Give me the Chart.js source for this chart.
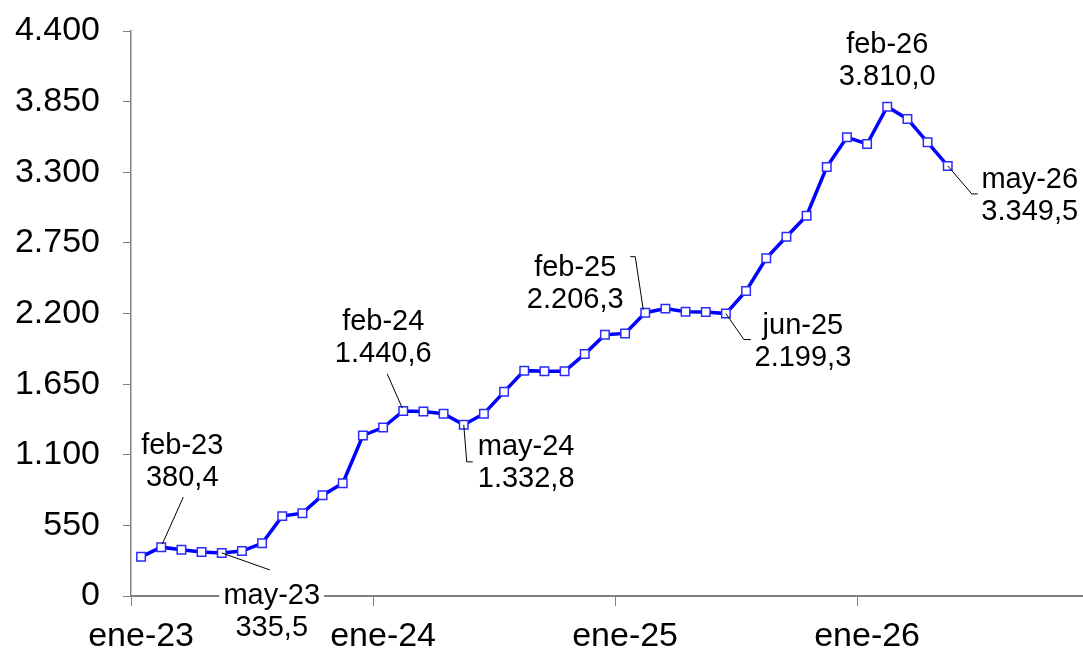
<!DOCTYPE html>
<html>
<head>
<meta charset="utf-8">
<script src="https://cdn.jsdelivr.net/npm/chart.js@4.4.0/dist/chart.umd.min.js"></script>
<style>
  html, body { margin: 0; padding: 0; background: #fff; overflow: hidden; }
  #wrap { width: 1083px; height: 653px; overflow: hidden; }
</style>
</head>
<body>
<div id="wrap"><canvas id="chart" width="1099" height="653"></canvas></div>
<script>
// months on the axis (data stops at may-26)
const months = [
  'ene-23','feb-23','mar-23','abr-23','may-23','jun-23','jul-23','ago-23','sep-23','oct-23','nov-23','dic-23',
  'ene-24','feb-24','mar-24','abr-24','may-24','jun-24','jul-24','ago-24','sep-24','oct-24','nov-24','dic-24',
  'ene-25','feb-25','mar-25','abr-25','may-25','jun-25','jul-25','ago-25','sep-25','oct-25','nov-25','dic-25',
  'ene-26','feb-26','mar-26','abr-26','may-26','jun-26','jul-26','ago-26','sep-26','oct-26','nov-26','dic-26'
];
const values = [
  305, 380.4, 360, 342, 335.5, 350, 410, 622, 645, 785, 878, 1250,
  1312, 1440.6, 1436, 1420, 1332.8, 1420, 1590, 1755, 1750, 1750, 1884, 2034,
  2045, 2206.3, 2238, 2214, 2212, 2199.3, 2375, 2630, 2798, 2962, 3341, 3572,
  3520, 3810.0, 3715, 3533, 3349.5
];
const yMin = 0, yMax = 4400, yStep = 550;
const highlighted = ['feb-23', 'may-23', 'feb-24', 'may-24', 'feb-25', 'jun-25', 'feb-26', 'may-26'];

// label placement relative to the point (px)
const callouts = {
  'feb-23': { dx: 21, dy: -101, align: 'center', path: [[22, -50], [1, -3]] },
  'may-23': { dx: 50, dy: 43, align: 'center', path: [[0, 0], [48, 17]], bg: true },
  'feb-24': { dx: -20, dy: -89, align: 'center', path: [[-16, -37], [-1, -3]] },
  'may-24': { dx: 14, dy: 22, align: 'left', path: [[0, 0], [3, 37], [9, 37]] },
  'feb-25': { dx: -70, dy: -45, align: 'center', path: [[-15, -56], [-10, -56], [-2, -3]] },
  'jun-25': { dx: 77, dy: 12, align: 'center', path: [[0, 0], [18, 26], [25, 26]] },
  'feb-26': { dx: 0, dy: -62, align: 'center', path: [] },
  'may-26': { dx: 82, dy: 14, align: 'center', path: [[0, 0], [24, 28], [30, 28]] }
};

function fmt(v, dec) {
  const parts = v.toFixed(dec).split('.');
  const whole = parts[0].replace(/\B(?=(\d{3})+(?!\d))/g, '.');
  return dec ? whole + ',' + parts[1] : whole;
}

const FONT = '"Liberation Sans", Arial, sans-serif';

const calloutPlugin = {
  id: 'callouts',
  afterDatasetsDraw(chart) {
    const ctx = chart.ctx;
    const meta = chart.getDatasetMeta(0);
    ctx.save();
    ctx.font = '29px ' + FONT;
    ctx.textBaseline = 'middle';
    highlighted.forEach(m => {
      const i = months.indexOf(m);
      const pt = meta.data[i];
      const c = callouts[m];
      if (!pt || !c) return;
      const x = pt.x, y = pt.y;
      if (c.path.length) {
        ctx.strokeStyle = '#000';
        ctx.lineWidth = 1;
        ctx.beginPath();
        c.path.forEach((p, k) => {
          if (k === 0) ctx.moveTo(x + p[0], y + p[1]);
          else ctx.lineTo(x + p[0], y + p[1]);
        });
        ctx.stroke();
      }
      const lines = [m, fmt(values[i], 1)];
      ctx.textAlign = c.align;
      lines.forEach((t, k) => {
        const ty = y + c.dy + k * 32;
        if (c.bg && k === 0) {
          const w = ctx.measureText(t).width;
          ctx.fillStyle = '#fff';
          ctx.fillRect(x + c.dx - w / 2 - 4, ty - 14, w + 8, 28);
        }
        ctx.fillStyle = '#000';
        ctx.fillText(t, x + c.dx, ty);
      });
    });
    ctx.restore();
  }
};

new Chart(document.getElementById('chart'), {
  type: 'line',
  data: {
    labels: months,
    datasets: [{
      data: values,
      borderColor: '#0000ff',
      borderWidth: 3.5,
      pointStyle: 'rect',
      pointRadius: 6,
      pointBackgroundColor: '#ffffff',
      pointBorderColor: '#2a2aff',
      pointBorderWidth: 1.5,
      tension: 0,
      fill: false
    }]
  },
  options: {
    responsive: false,
    devicePixelRatio: 1,
    animation: false,
    layout: { autoPadding: false, padding: { top: 31, right: 0, bottom: 0, left: 0 } },
    plugins: { legend: { display: false }, tooltip: { enabled: false } },
    scales: {
      x: {
        offset: true,
        grid: {
          offset: true,
          drawOnChartArea: false,
          drawTicks: true,
          tickLength: 10,
          tickWidth: 1,
          tickColor: ctx => (ctx.index % 12 === 0 ? '#808080' : 'rgba(0,0,0,0)')
        },
        border: { display: true, color: '#808080', width: 2 },
        ticks: {
          autoSkip: false,
          maxRotation: 0,
          minRotation: 0,
          padding: 10,
          color: '#000',
          font: { family: FONT, size: 34 },
          callback: (v, i) => (i % 12 === 0 ? months[i] : '')
        },
        afterFit: s => { s.height = 57; s.paddingRight = 0; s.paddingLeft = 0; }
      },
      y: {
        min: yMin,
        max: yMax,
        grid: {
          drawOnChartArea: false,
          drawTicks: true,
          tickLength: 8,
          tickColor: '#808080'
        },
        border: { display: true, color: '#808080', width: 1.5 },
        ticks: {
          stepSize: yStep,
          padding: 23,
          color: '#000',
          font: { family: FONT, size: 34 },
          callback: v => fmt(v, 0)
        },
        afterFit: s => { s.width = 131; s.paddingTop = 0; s.paddingBottom = 0; }
      }
    }
  },
  plugins: [calloutPlugin]
});
</script>
</body>
</html>
